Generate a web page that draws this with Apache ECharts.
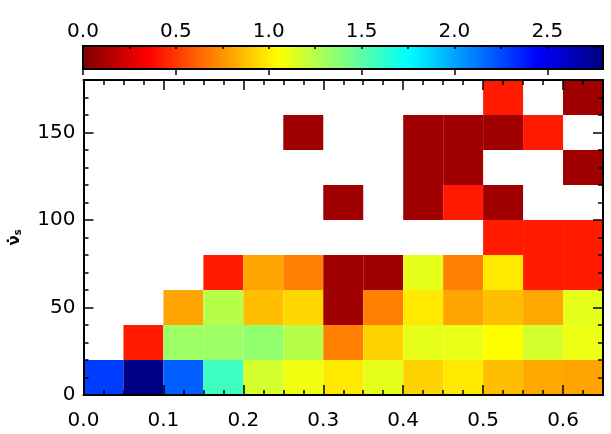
<!DOCTYPE html>
<html>
<head>
<meta charset="utf-8">
<script src="https://cdn.jsdelivr.net/npm/echarts@6/dist/echarts.min.js"></script>
<style>
html,body{margin:0;padding:0;background:#fff;}
#chart{width:611px;height:434px;}
</style>
</head>
<body>
<div id="chart"></div>
<script>
// ---- data ----
const xBinStarts = [0.00, 0.05, 0.10, 0.15, 0.20, 0.25, 0.30, 0.35, 0.40, 0.45, 0.50, 0.55, 0.60];
const yBinStarts = [0, 20, 40, 60, 80, 100, 120, 140, 160];
const binWidthX = 0.05;
const binWidthY = 20;
// values per y-bin row (bottom to top), one entry per x-bin; null = empty
const row0 = [2.28, 2.78, 2.19, 1.58, 1.17, 1.09, 0.99, 1.12, 0.93, 0.99, 0.87, 0.81, 0.80];
const row1 = [null, 0.42, 1.32, 1.32, 1.35, 1.25, 0.70, 0.93, 1.12, 1.11, 1.05, 1.17, 1.10];
const row2 = [null, null, 0.80, 1.25, 0.87, 0.94, 0.09, 0.70, 0.99, 0.80, 0.87, 0.81, 1.12];
const row3 = [null, null, null, 0.42, 0.80, 0.70, 0.09, 0.09, 1.12, 0.70, 0.99, 0.42, 0.42];
const row4 = [null, null, null, null, null, null, null, null, null, null, 0.42, 0.42, 0.42];
const row5 = [null, null, null, null, null, null, 0.09, null, 0.09, 0.42, 0.09, null, null];
const row6 = [null, null, null, null, null, null, null, null, 0.09, 0.09, null, null, 0.09];
const row7 = [null, null, null, null, null, 0.09, null, null, 0.09, 0.09, 0.09, 0.42, null];
const row8 = [null, null, null, null, null, null, null, null, null, null, 0.42, null, 0.09];
const rows = [row0, row1, row2, row3, row4, row5, row6, row7, row8];
const colorMin = 0, colorMax = 2.8;
const colorbarTicks = [0.0, 0.5, 1.0, 1.5, 2.0, 2.5];
const xTickLabels = [0.0, 0.1, 0.2, 0.3, 0.4, 0.5, 0.6];
const yTickLabels = [0, 50, 100, 150];

// ---- build ----
const cells = [];
rows.forEach((r, j) => r.forEach((v, i) => {
  if (v !== null) cells.push([xBinStarts[i], yBinStarts[j], v]);
}));

const jet = ['#800000', '#ff0000', '#ff8000', '#ffff00', '#80ff80', '#00ffff', '#0080ff', '#0000ff', '#000080'];
const FONT = 'DejaVu Sans';
const black = '#000';

function majorAxis(pos, grid, min, max, interval, labels, extra) {
  return Object.assign({
    type: 'value', gridIndex: grid, position: pos, min: min, max: max, interval: interval,
    axisLine: { show: true, onZero: false, lineStyle: { color: black, width: 2 } },
    axisTick: { show: true, inside: true, length: 10, lineStyle: { color: black, width: 1.5 } },
    axisLabel: labels ? {
      show: true, color: black, fontSize: 20, fontFamily: FONT, showMaxLabel: false
    } : { show: false },
    splitLine: { show: false }, z: 5
  }, extra || {});
}
function minorAxis(pos, grid, min, max, interval, len) {
  return {
    type: 'value', gridIndex: grid, position: pos, min: min, max: max, interval: interval,
    axisLine: { show: false, onZero: false },
    axisTick: { show: true, inside: true, length: len, lineStyle: { color: black, width: 1.5 } },
    axisLabel: { show: false }, splitLine: { show: false }, z: 5
  };
}

const xMajB = majorAxis('bottom', 0, 0, 0.65, 0.1, true);
xMajB.axisLabel.margin = 16;
xMajB.axisLabel.formatter = v => (xTickLabels.some(t => Math.abs(t - v) < 1e-6) ? v.toFixed(1) : '');
const yMajL = majorAxis('left', 0, 0, 180, 50, true, {
  name: '{a|ν̇}{b|s}', nameLocation: 'middle', nameRotate: 90, nameGap: 60,
  nameTextStyle: { rich: {
    a: { fontSize: 15, fontWeight: 'bold', fontFamily: FONT, color: black },
    b: { fontSize: 10, fontWeight: 'bold', fontFamily: FONT, color: black, verticalAlign: 'bottom', padding: [6, 0, 0, 0] }
  } }
});
yMajL.axisLabel.margin = 8;
yMajL.axisLabel.formatter = v => (yTickLabels.indexOf(v) >= 0 ? String(v) : '');

const cbAxis = majorAxis('top', 1, colorMin, colorMax, 0.5, true, { axisLine: { show: false } });
cbAxis.axisTick.length = 6;
cbAxis.axisLabel.margin = 4;
cbAxis.axisLabel.formatter = v => (colorbarTicks.some(t => Math.abs(t - v) < 1e-6) ? v.toFixed(1) : '');
cbAxis.z = 12;
const cbMinor = minorAxis('top', 1, colorMin, colorMax, 0.25, 3);
cbMinor.z = 12;

const option = {
  backgroundColor: '#fff',
  animation: false,
  grid: [
    { left: 83, right: 8, top: 80, bottom: 39, containLabel: false },
    { left: 83, top: 46, width: 520, height: 23, show: true, borderColor: black, borderWidth: 2,
      backgroundColor: 'transparent', z: 10 }
  ],
  xAxis: [
    xMajB,
    minorAxis('bottom', 0, 0, 0.65, 0.025, 5),
    majorAxis('top', 0, 0, 0.65, 0.1, false),
    minorAxis('top', 0, 0, 0.65, 0.025, 5),
    cbAxis,
    cbMinor
  ],
  yAxis: [
    yMajL,
    minorAxis('left', 0, 0, 180, 10, 5),
    majorAxis('right', 0, 0, 180, 50, false),
    minorAxis('right', 0, 0, 180, 10, 5),
    { type: 'value', gridIndex: 1, min: 0, max: 1, show: false }
  ],
  visualMap: [{
    type: 'continuous', seriesIndex: 0, dimension: 2,
    min: colorMin, max: colorMax, orient: 'horizontal',
    left: 83, top: 46, itemWidth: 23, itemHeight: 520, padding: 0,
    calculable: false, hoverLink: false, inRange: { color: jet }, z: 4
  }],
  series: [{
    type: 'custom', xAxisIndex: 0, yAxisIndex: 0,
    data: cells, encode: { x: 0, y: 1 },
    renderItem: function (params, api) {
      const x0 = api.value(0), y0 = api.value(1);
      const p0 = api.coord([x0, y0 + binWidthY]);
      const p1 = api.coord([x0 + binWidthX, y0]);
      return {
        type: 'rect',
        shape: { x: p0[0], y: p0[1], width: p1[0] - p0[0], height: p1[1] - p0[1] },
        style: { fill: api.visual('color'), stroke: null }
      };
    }
  }]
};
const chart = echarts.init(document.getElementById('chart'), null, { renderer: 'canvas' });
chart.setOption(option);
</script>
</body>
</html>
